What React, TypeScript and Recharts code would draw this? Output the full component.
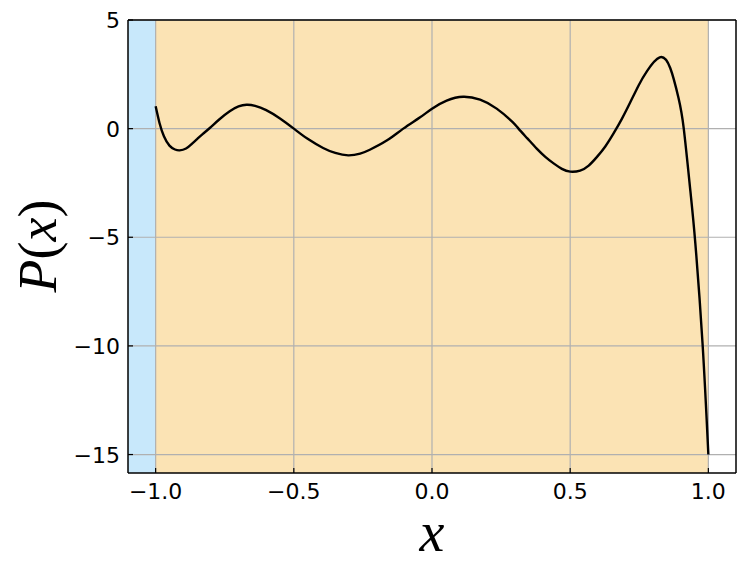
import {
  ComposedChart,
  Line,
  XAxis,
  YAxis,
  ReferenceArea,
  ReferenceLine,
} from "recharts";

const xs = [
  -1.0, -0.986, -0.97, -0.95, -0.93, -0.913, -0.89, -0.87, -0.85, -0.83,
  -0.804, -0.77, -0.732, -0.7, -0.671, -0.64, -0.6, -0.55, -0.5, -0.45, -0.394,
  -0.35, -0.303, -0.26, -0.225, -0.164, -0.104, -0.043, 0.0, 0.053, 0.113,
  0.174, 0.234, 0.29, 0.313, 0.345, 0.379, 0.41, 0.44, 0.47, 0.5, 0.536, 0.567,
  0.597, 0.627, 0.657, 0.687, 0.717, 0.748, 0.778, 0.824, 0.862, 0.892, 0.911,
  0.935, 0.953, 0.979, 1.0,
];
const ys = [
  1.03, 0.26, -0.35, -0.78, -0.96, -1.0, -0.915, -0.71, -0.48, -0.25, 0.03,
  0.42, 0.8, 1.02, 1.1, 1.05, 0.85, 0.47, 0.0, -0.47, -0.89, -1.12, -1.23,
  -1.15, -0.97, -0.55, 0.0, 0.52, 0.92, 1.29, 1.47, 1.33, 0.92, 0.32, 0.0,
  -0.45, -0.92, -1.3, -1.6, -1.85, -1.98, -1.93, -1.7, -1.3, -0.82, -0.22, 0.45,
  1.2, 2.0, 2.65, 3.28, 2.79, 1.41, 0.0, -2.88, -5.3, -9.9, -15.0,
];

const xTicks = [-1.0, -0.5, 0.0, 0.5, 1.0];
const yTicks = [-15, -10, -5, 0, 5];
const xDomain = [-1.1, 1.1];
const yDomain = [-15.85, 5];

const data = xs.map((x, i) => ({ x, y: ys[i] }));

const PLOT_LEFT = 128;
const PLOT_BOTTOM = 473;
const TICK_FONT = "'DejaVu Sans', sans-serif";
const LABEL_FONT = "'Liberation Serif', 'DejaVu Serif', serif";

const fmt = (v: number, digits: number) =>
  v < 0 ? "\u2212" + Math.abs(v).toFixed(digits) : v.toFixed(digits);

const YTick = (props: any) => {
  const { y, payload } = props;
  return (
    <g>
      <line x1={PLOT_LEFT} x2={PLOT_LEFT + 5} y1={y} y2={y} stroke="#000" strokeWidth={1.2} />
      <text x={PLOT_LEFT - 8} y={y + 8} textAnchor="end" fontSize={22} fontFamily={TICK_FONT} fill="#000">
        {fmt(payload.value, 0)}
      </text>
    </g>
  );
};

const XTick = (props: any) => {
  const { x, payload } = props;
  return (
    <g>
      <line x1={x} x2={x} y1={PLOT_BOTTOM} y2={PLOT_BOTTOM - 5} stroke="#000" strokeWidth={1.2} />
      <text x={x} y={PLOT_BOTTOM + 26} textAnchor="middle" fontSize={22} fontFamily={TICK_FONT} fill="#000">
        {fmt(payload.value, 1)}
      </text>
    </g>
  );
};

export default function App() {
  return (
    <div style={{ position: "absolute", left: 0, top: 0, background: "#fff" }}>
      <ComposedChart
        width={747}
        height={575}
        data={data}
        margin={{ top: 20, right: 11, left: 0, bottom: 0 }}
      >
        <XAxis
          dataKey="x"
          type="number"
          domain={xDomain}
          ticks={xTicks}
          allowDataOverflow
          height={102}
          tickLine={false}
          axisLine={{ stroke: "#000", strokeWidth: 1.5 }}
          tick={<XTick />}
          label={{
            content: () => (
              <text x={432} y={551} textAnchor="middle" fontSize={56} fontStyle="italic" fontFamily={LABEL_FONT} fill="#000">
                x
              </text>
            ),
          }}
        />
        <YAxis
          type="number"
          domain={yDomain}
          ticks={yTicks}
          allowDataOverflow
          width={128}
          tickLine={false}
          axisLine={{ stroke: "#000", strokeWidth: 1.5 }}
          tick={<YTick />}
          label={{
            content: () => (
              <text transform="translate(56,246) rotate(-90)" textAnchor="middle" fontSize={54} fontFamily={LABEL_FONT} fill="#000">
                <tspan fontStyle="italic">P</tspan>
                <tspan>(</tspan>
                <tspan fontStyle="italic">x</tspan>
                <tspan>)</tspan>
              </text>
            ),
          }}
        />

        <ReferenceArea x1={-1.1} x2={-1.0} fill="#c8e8fb" fillOpacity={1} stroke="none" ifOverflow="hidden" />
        <ReferenceArea x1={-1.0} x2={1.0} fill="#fbe3b4" fillOpacity={1} stroke="none" ifOverflow="hidden" />

        {xTicks.map((t) => (
          <ReferenceLine key={"gx" + t} x={t} stroke="#b0b0b0" strokeWidth={1.2} />
        ))}
        {yTicks.map((t) => (
          <ReferenceLine key={"gy" + t} y={t} stroke="#b0b0b0" strokeWidth={1.2} />
        ))}

        <Line
          type="natural"
          dataKey="y"
          stroke="#000"
          strokeWidth={2.4}
          dot={false}
          isAnimationActive={false}
        />

        {/* plot frame */}
        <ReferenceLine y={yDomain[1]} stroke="#000" strokeWidth={1.5} ifOverflow="visible" />
        <ReferenceLine x={xDomain[1]} stroke="#000" strokeWidth={1.5} ifOverflow="visible" />
      </ComposedChart>
    </div>
  );
}
